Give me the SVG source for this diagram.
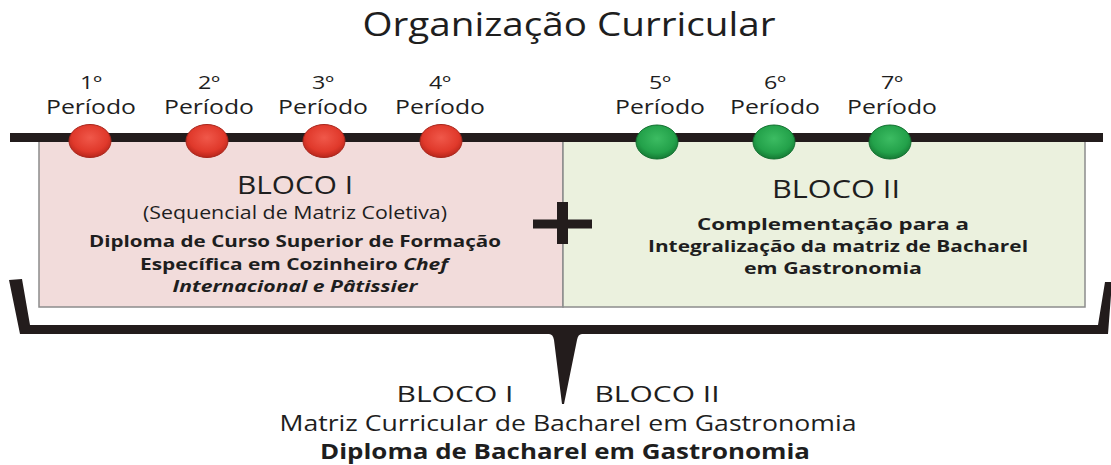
<svg xmlns="http://www.w3.org/2000/svg" width="1111" height="465" viewBox="0 0 1111 465">
<defs>
<radialGradient id="gRed" cx="0.5" cy="0.4" r="0.6">
<stop offset="0" stop-color="#f0584a"/>
<stop offset="0.7" stop-color="#e0392b"/>
<stop offset="1" stop-color="#b8261b"/>
</radialGradient>
<radialGradient id="gGreen" cx="0.5" cy="0.4" r="0.6">
<stop offset="0" stop-color="#3cbc62"/>
<stop offset="0.7" stop-color="#23a14a"/>
<stop offset="1" stop-color="#157a34"/>
</radialGradient>
<style>
text{font-family:"Open Sans","Noto Sans","DejaVu Sans",sans-serif;fill:#1e1e1e;text-anchor:middle}
.num{font-size:19px}
.per{font-size:19.5px}
.big{font-size:25px}
.sub{font-size:17.5px}
.bold{font-size:16.5px;font-weight:bold}
.it{font-style:italic}
.low{font-size:21px}
.red{fill:url(#gRed);stroke:#a8261c;stroke-width:1}
.green{fill:url(#gGreen);stroke:#137030;stroke-width:1}
</style>
</defs>
<rect width="1111" height="465" fill="#ffffff"/>
<text x="569" y="36" style="font-size:32px" textLength="413" lengthAdjust="spacingAndGlyphs">Organização Curricular</text>

<g id="bloco1">
<rect x="39" y="141" width="524" height="166" fill="#f2dcdb" stroke="#8c8c8c" stroke-width="1.5"/>
<text class="big" x="295" y="194" textLength="116" lengthAdjust="spacingAndGlyphs">BLOCO I</text>
<text class="sub" x="295" y="219" textLength="304" lengthAdjust="spacingAndGlyphs">(Sequencial de Matriz Coletiva)</text>
<text class="bold" x="295" y="247" textLength="412" lengthAdjust="spacingAndGlyphs">Diploma de Curso Superior de Formação</text>
<text class="bold" x="294" y="270" textLength="308" lengthAdjust="spacingAndGlyphs">Específica em Cozinheiro <tspan class="it">Chef</tspan></text>
<text class="bold it" x="295" y="292" textLength="245" lengthAdjust="spacingAndGlyphs">Internacional e Pâtissier</text>
</g>

<g id="bloco2">
<rect x="563" y="141" width="522" height="166" fill="#ebf1de" stroke="#8c8c8c" stroke-width="1.5"/>
<text class="big" x="836" y="198" textLength="128" lengthAdjust="spacingAndGlyphs">BLOCO II</text>
<text class="bold" x="833" y="230" textLength="272" lengthAdjust="spacingAndGlyphs">Complementação para a</text>
<text class="bold" x="838" y="252" textLength="380" lengthAdjust="spacingAndGlyphs">Integralização da matriz de Bacharel</text>
<text class="bold" x="833" y="274" textLength="178" lengthAdjust="spacingAndGlyphs">em Gastronomia</text>
</g>

<g id="connectors">
<rect x="10" y="133" width="1093" height="9" fill="#231c1c"/>
<path d="M9,280 L22,279 L30,325 L1098,325 L1105,282 L1112,282 L1108,334 L582,334 Q578,334 577,340 L564,404 L562,404 L554,340 Q553,334 549,334 L20,334 Z" fill="#231c1c"/>
</g>

<g id="plus">
<rect x="533" y="219.5" width="59" height="9" fill="#231c1c"/>
<rect x="557" y="202" width="11" height="42" fill="#231c1c"/>
</g>

<g id="p1"><ellipse class="red" cx="90" cy="141" rx="21" ry="16.5"/><text class="num" x="91" y="89" textLength="22" lengthAdjust="spacingAndGlyphs">1º</text><text class="per" x="91" y="114" textLength="90" lengthAdjust="spacingAndGlyphs">Período</text></g>
<g id="p2"><ellipse class="red" cx="207" cy="141" rx="21" ry="16.5"/><text class="num" x="209" y="89" textLength="22" lengthAdjust="spacingAndGlyphs">2º</text><text class="per" x="209" y="114" textLength="90" lengthAdjust="spacingAndGlyphs">Período</text></g>
<g id="p3"><ellipse class="red" cx="324" cy="141" rx="21" ry="16.5"/><text class="num" x="323" y="89" textLength="22" lengthAdjust="spacingAndGlyphs">3º</text><text class="per" x="323" y="114" textLength="90" lengthAdjust="spacingAndGlyphs">Período</text></g>
<g id="p4"><ellipse class="red" cx="441" cy="141" rx="21" ry="16.5"/><text class="num" x="440" y="89" textLength="22" lengthAdjust="spacingAndGlyphs">4º</text><text class="per" x="440" y="114" textLength="90" lengthAdjust="spacingAndGlyphs">Período</text></g>
<g id="p5"><ellipse class="green" cx="657" cy="142" rx="21" ry="17"/><text class="num" x="660" y="89" textLength="22" lengthAdjust="spacingAndGlyphs">5º</text><text class="per" x="660" y="114" textLength="90" lengthAdjust="spacingAndGlyphs">Período</text></g>
<g id="p6"><ellipse class="green" cx="774" cy="142" rx="21" ry="17"/><text class="num" x="775" y="89" textLength="22" lengthAdjust="spacingAndGlyphs">6º</text><text class="per" x="775" y="114" textLength="90" lengthAdjust="spacingAndGlyphs">Período</text></g>
<g id="p7"><ellipse class="green" cx="890" cy="142" rx="21" ry="17"/><text class="num" x="892" y="89" textLength="22" lengthAdjust="spacingAndGlyphs">7º</text><text class="per" x="892" y="114" textLength="90" lengthAdjust="spacingAndGlyphs">Período</text></g>

<g id="result">
<text class="low" x="455" y="402" textLength="117" lengthAdjust="spacingAndGlyphs">BLOCO I</text>
<text class="low" x="657" y="402" textLength="125" lengthAdjust="spacingAndGlyphs">BLOCO II</text>
<text class="low" x="568" y="431" textLength="577" lengthAdjust="spacingAndGlyphs">Matriz Curricular de Bacharel em Gastronomia</text>
<text class="low" x="565" y="459" style="font-weight:bold" textLength="490" lengthAdjust="spacingAndGlyphs">Diploma de Bacharel em Gastronomia</text>
</g>
</svg>
